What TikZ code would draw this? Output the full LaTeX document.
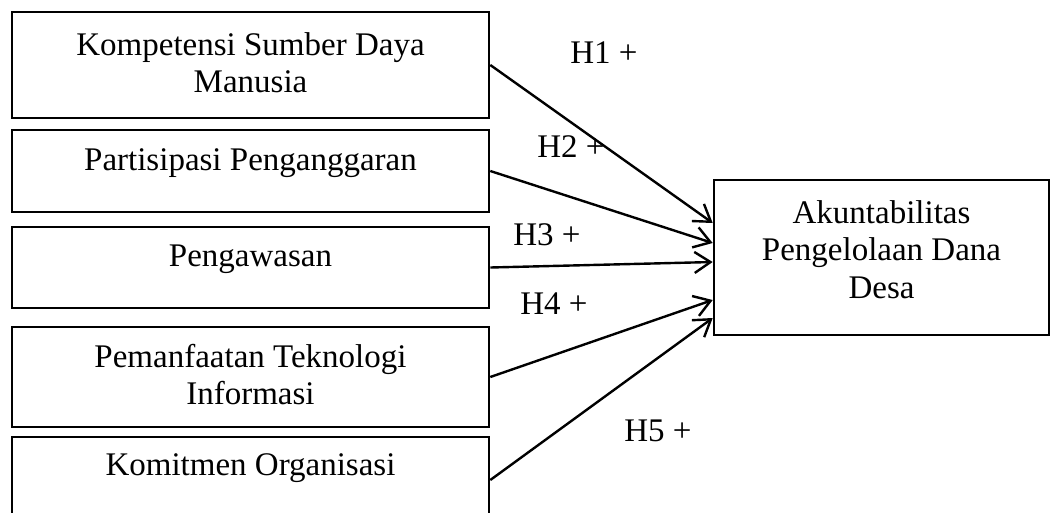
\documentclass[tikz,border=0pt]{standalone}
\usepackage{fontspec}
\setmainfont{Liberation Serif}
\usetikzlibrary{positioning,arrows.meta}

\tikzset{
  var/.style={draw, line width=2.6pt, inner sep=0pt, text width=477pt, align=flush center,
    font=\fontsize{33}{37.5}\selectfont},
  hyp/.style={line width=2.4pt, -{Straight Barb[length=16pt,width=21pt]}},
  hlabel/.style={anchor=base, font=\fontsize{33}{37}\selectfont}
}

\begin{document}
\begin{tikzpicture}[x=1pt,y=-1pt]
  \useasboundingbox (0,0) rectangle (1052,512);

  \node[var, anchor=north west, text height=43pt, text depth=63pt] (ksdm) at (10.7,10.7) {Kompetensi Sumber Daya\\Manusia};
  \node[var, below=9.4pt of ksdm, text height=40pt, text depth=42pt] (pp) {Partisipasi Penganggaran};
  \node[var, below=12.4pt of pp, text height=39pt, text depth=42pt] (pw) {Pengawasan};
  \node[var, below=16.4pt of pw, text height=40pt, text depth=60pt] (pti) {Pemanfaatan Teknologi\\Informasi};
  \node[var, below=7.4pt of pti, text height=38pt, text depth=48pt] (ko) {Komitmen Organisasi};

  \node[var, text width=335pt, anchor=north west, text height=43pt, text depth=112pt] (apdd) at (712.7,178.7) {Akuntabilitas\\Pengelolaan Dana\\Desa};

  \draw[hyp] (ksdm.east) -- ([yshift=34.5pt]apdd.west);
  \draw[hyp] (pp.east) -- ([yshift=14.5pt]apdd.west);
  \draw[hyp] (pw.east) -- ([yshift=-4.5pt]apdd.west);
  \draw[hyp] (pti.east) -- ([yshift=-42.5pt]apdd.west);
  \draw[hyp] (ko.east) -- ([yshift=-60.5pt]apdd.west);

  \node[hlabel] (h1) at (604,63) {H1 +};
  \node[hlabel] (h2) at (571,157) {H2 +};
  \node[hlabel] (h3) at (547,245) {H3 +};
  \node[hlabel] (h4) at (554,314) {H4 +};
  \node[hlabel] (h5) at (658,441) {H5 +};
\end{tikzpicture}
\end{document}
